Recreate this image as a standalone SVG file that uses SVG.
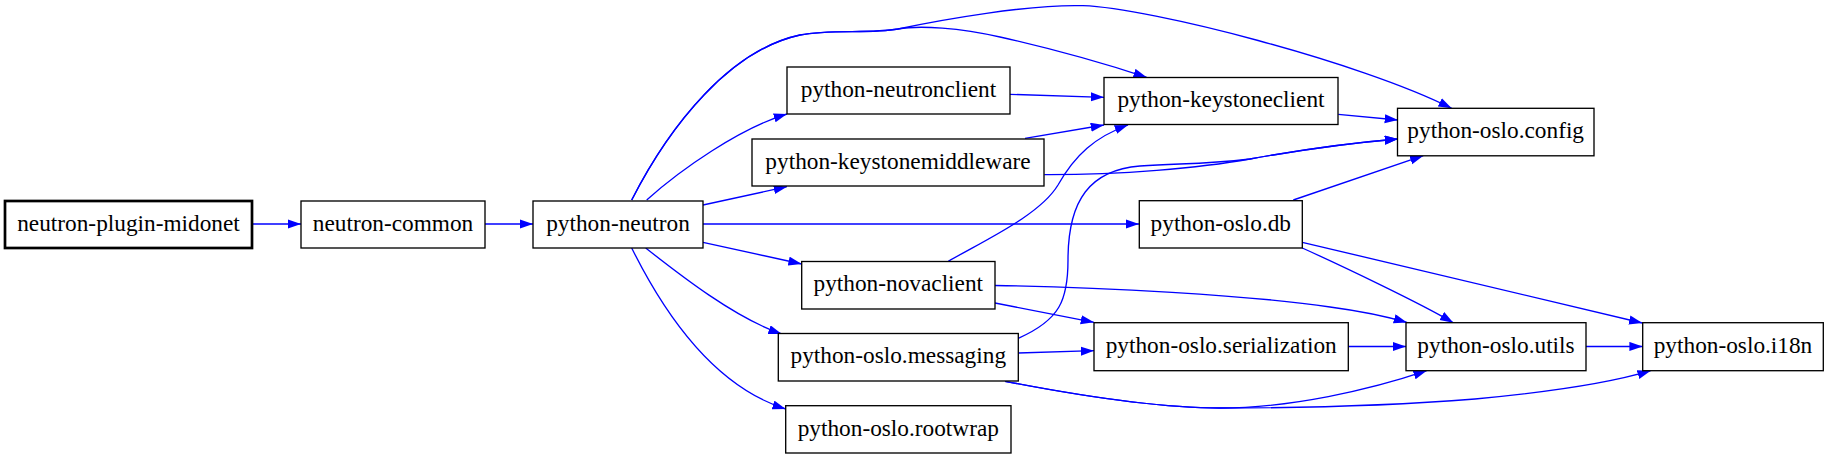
<svg xmlns="http://www.w3.org/2000/svg" width="1829" height="459" viewBox="0 0 1829 459">
<style>
.node rect{fill:#fff;stroke:#000;stroke-width:1.33}
.node text{font-family:"Liberation Serif","Times New Roman",serif;font-size:23.3px;fill:#000;text-anchor:middle}
#n_midonet rect{stroke-width:2.7}
.edges path{fill:none;stroke:#0000ff;stroke-width:1.33;marker-end:url(#arr)}
</style>
<defs>
<marker id="arr" markerUnits="userSpaceOnUse" markerWidth="14" markerHeight="10" refX="13.3" refY="4.6" orient="auto">
<path d="M0,0 L13.3,4.6 L0,9.2 Z" fill="#0000ff"/>
</marker>
</defs>
<rect width="1829" height="459" fill="#fff"/>
<g class="edges">
<path d="M252,224 L301,224"/>
<path d="M485,224 L533,224"/>
<path d="M631.7,200 C670,125 730,50 800,35 C830,29 870,34 898,29 C940,20 1030,4 1083,5.7 C1150,8 1360,62 1451.7,108.3"/>
<path d="M631.7,200 C670,125 730,50 800,35 C830,29 870,34 898,29 C920,25 960,28 1000,37 C1040,46 1100,62 1146.7,77.3"/>
<path d="M646.7,200 C680,170 740,128 787,114"/>
<path d="M703,205 L787,186.7"/>
<path d="M703,224 L1139,224"/>
<path d="M703,242.3 L801.7,264"/>
<path d="M645.7,248 C680,275 735,318 781.7,334"/>
<path d="M631.7,248 C660,305 710,385 785.7,409"/>
<path d="M1010,94.3 L1104,97.3"/>
<path d="M1025,138.3 L1104,125"/>
<path d="M1044.3,174.7 C1120,175 1200,168 1250,159 C1300,150 1350,143 1398,139"/>
<path d="M1018.3,338.3 C1060,320 1068,300 1068,260 C1068,200 1090,170 1140,166 C1180,163 1200,165 1250,159 C1300,150 1350,143 1398,139"/>
<path d="M1338.3,114.3 L1398,120"/>
<path d="M948.3,261.3 C985,240 1040,215 1058,185 C1075,155 1095,137 1128,125"/>
<path d="M1293.3,200 L1423.3,155.7"/>
<path d="M1302.3,248 C1340,265 1420,303 1453.3,322.7"/>
<path d="M1302.3,242.3 L1642.3,323"/>
<path d="M995,285.5 C1100,287 1250,295 1330,307 C1360,311 1385,316 1407,322.5"/>
<path d="M995,303 L1094,322.3"/>
<path d="M1018.3,353 L1094,350.7"/>
<path d="M1005,381.3 C1060,392 1150,408 1220,408 C1290,408 1370,390 1426.7,370.7"/>
<path d="M1005,381.3 C1060,392 1150,408 1220,408 C1300,408 1400,405 1475,399 C1540,393 1610,383 1650.7,370.7"/>
<path d="M1348.3,346.5 L1406,346.5"/>
<path d="M1586,346.5 L1642.7,346.5"/>
</g>
<g id="n_midonet" class="node"><rect x="5" y="201" width="247" height="47"/><text x="128.5" y="230.5">neutron-plugin-midonet</text></g>
<g id="n_common" class="node"><rect x="301" y="201" width="184" height="47"/><text x="393" y="230.5">neutron-common</text></g>
<g id="n_neutron" class="node"><rect x="533" y="201" width="170" height="47"/><text x="618" y="230.5">python-neutron</text></g>
<g id="n_neutronclient" class="node"><rect x="787" y="67" width="223" height="47"/><text x="898.5" y="96.5">python-neutronclient</text></g>
<g id="n_keystonemiddleware" class="node"><rect x="752" y="139" width="292" height="47"/><text x="898" y="168.5">python-keystonemiddleware</text></g>
<g id="n_keystoneclient" class="node"><rect x="1104" y="77.5" width="234" height="47"/><text x="1221" y="107">python-keystoneclient</text></g>
<g id="n_config" class="node"><rect x="1397.5" y="108.3" width="196.5" height="47.5"/><text x="1495.7" y="138">python-oslo.config</text></g>
<g id="n_db" class="node"><rect x="1139.3" y="200.7" width="163" height="47.3"/><text x="1220.8" y="230.5">python-oslo.db</text></g>
<g id="n_novaclient" class="node"><rect x="801.7" y="261.5" width="193.3" height="47.5"/><text x="898.3" y="291.3">python-novaclient</text></g>
<g id="n_messaging" class="node"><rect x="778.3" y="333.5" width="240" height="47.5"/><text x="898.3" y="363.3">python-oslo.messaging</text></g>
<g id="n_rootwrap" class="node"><rect x="785.7" y="405.7" width="225.3" height="47.3"/><text x="898.3" y="435.5">python-oslo.rootwrap</text></g>
<g id="n_serialization" class="node"><rect x="1094" y="322.7" width="254.3" height="48"/><text x="1221.2" y="352.7">python-oslo.serialization</text></g>
<g id="n_utils" class="node"><rect x="1406" y="322.7" width="180" height="48"/><text x="1496" y="352.7">python-oslo.utils</text></g>
<g id="n_i18n" class="node"><rect x="1642.7" y="322.7" width="180.6" height="48"/><text x="1733" y="352.7">python-oslo.i18n</text></g>
</svg>
